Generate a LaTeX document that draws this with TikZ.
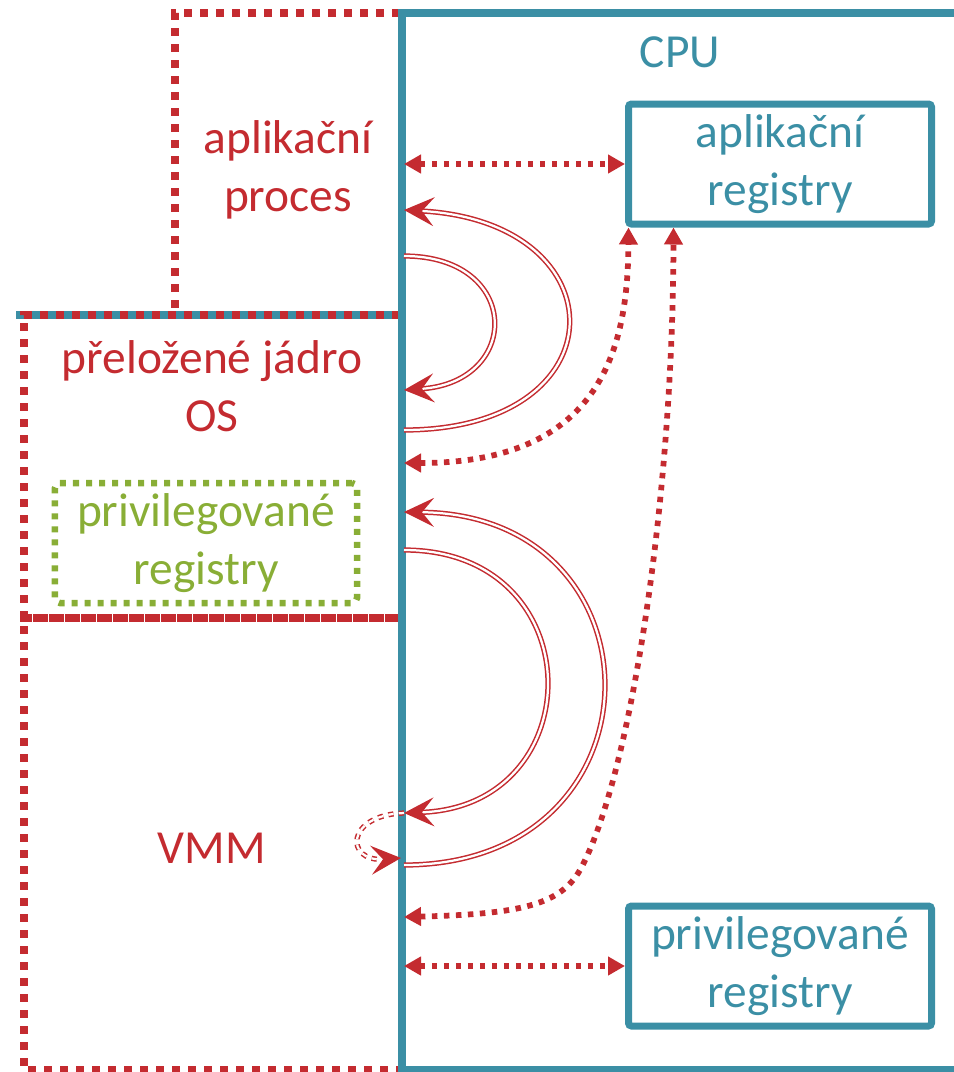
\documentclass[tikz,border=0pt]{standalone}
\usepackage{fontspec}
\setmainfont{Carlito}
\usetikzlibrary{arrows.meta}

\definecolor{cpucol}{RGB}{59,143,165}
\definecolor{oscol}{RGB}{196,43,48}
\definecolor{privcol}{RGB}{137,174,54}

\begin{document}
\begin{tikzpicture}[x=0.2mm, y=-0.2mm,
    every node/.style={font=\fontsize{27}{33}\selectfont, align=center},
    osdot/.style={oscol, line width=1.6mm, dash pattern=on 1.6mm off 1.6mm},
    cpudot/.style={cpucol, line width=1.6mm, dash pattern=on 1.6mm off 1.6mm, dash phase=1.6mm},
    regbox/.style={draw=cpucol, line width=1.4mm, rounded corners=0.6mm,
      minimum width=60.6mm, minimum height=24mm, text=cpucol},
    privbox/.style={draw=privcol, line width=1.3mm, dash pattern=on 1.2mm off 1.4mm,
      rounded corners=1mm, minimum width=60.4mm, minimum height=24mm, text=privcol},
    flow/.style={oscol, line width=1.15mm, dash pattern=on 1.1mm off 1.3mm,
      {Triangle[length=3.4mm,width=3.6mm]}-{Triangle[length=3.4mm,width=3.6mm]}},
    trap/.style={oscol, double=white, line width=0.3mm, double distance=0.45mm,
      -{Stealth[length=6mm,width=5.8mm,inset=2.4mm]}},
  ]

  \clip (0,0) rectangle (954,1072);

  % regions on the left
  \draw[cpudot] (8,315) -- (400,315);
  \draw[osdot] (400,13) -- (175,13) -- (175,315);
  \draw[osdot] (400,315) -- (24,315) -- (24,618) -- (400,618);
  \draw[osdot] (400,618) -- (24,618) -- (24,1070) -- (400,1070);

  \node[text=oscol] (proc) at (288,170) {aplikační\\proces};
  \node[text=oscol] (kern) at (212,386) {přeložené jádro\\OS};
  \node[privbox] (kregs) at (206,543) {privilegované\\registry};
  \node[text=oscol] (vmm) at (212,848) {VMM};

  % CPU
  \draw[cpucol, line width=1.5mm] (1000,13) -- (402,13) -- (402,1070) -- (1000,1070);
  \node[text=cpucol] (cpu) at (680,52) {CPU};
  \node[regbox] (areg) at (780,164) {aplikační\\registry};
  \node[regbox] (preg) at (780,966) {privilegované\\registry};

  \coordinate (u1) at (404,164);
  \coordinate (u2) at (404,966);
  \coordinate (c1) at (404,463);
  \coordinate (c2) at (404,917);
  \coordinate (r1) at ([xshift=0.7mm]areg.south west);
  \coordinate (r2) at ([xshift=9.7mm]areg.south west);

  % register access
  \draw[flow] (u1) -- (areg.west);
  \draw[flow] (u2) -- (preg.west);
  \draw[flow] (c1) .. controls (600,463) and (628,350) .. (r1);
  \draw[flow] (c2) .. controls (520,914) and (560,905) .. (580,870)
    .. controls (630,780) and (673,500) .. (r2);

  % traps
  \coordinate (t1) at (404,430);
  \coordinate (t2) at (404,210);
  \coordinate (t3) at (404,256);
  \coordinate (t4) at (404,390);
  \coordinate (t5) at (404,865);
  \coordinate (t6) at (404,512);
  \coordinate (t7) at (404,550);
  \coordinate (t8) at (404,813);
  \coordinate (t9) at (401,858);

  \draw[trap] (t1) .. controls (622,430) and (622,222) .. (t2);
  \draw[trap] (t3) .. controls (522,256) and (522,382) .. (t4);
  \draw[trap] (t5) .. controls (669,865) and (669,515) .. (t6);
  \draw[trap] (t7) .. controls (593,550) and (593,806) .. (t8);
  \draw[trap, dashed] (t8) .. controls (345,815) and (345,862) .. (t9);

\end{tikzpicture}
\end{document}
